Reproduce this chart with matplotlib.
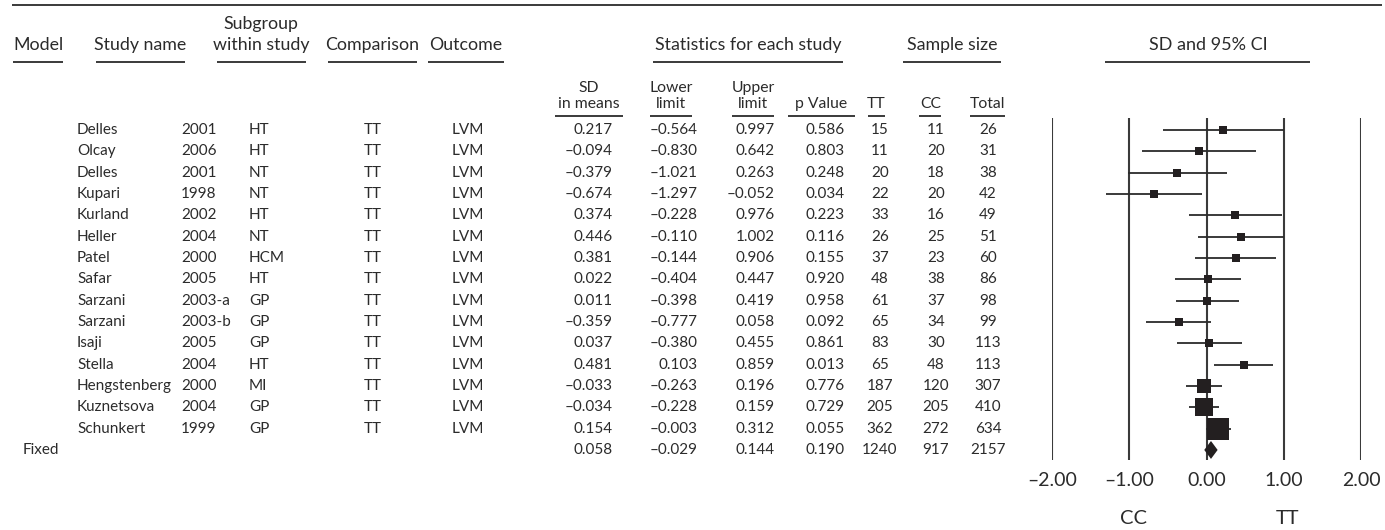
import numpy as np
import matplotlib
matplotlib.use("Agg")
import matplotlib.pyplot as plt

plt.rcParams['font.family'] = ['Lato', 'DejaVu Sans']

'''
######################### Data #########################
'''
study = ["Delles", "Olcay", "Delles", "Kupari", "Kurland", "Heller", "Patel", "Safar",
         "Sarzani", "Sarzani", "Isaji", "Stella", "Hengstenberg", "Kuznetsova", "Schunkert"]
year = ["2001", "2006", "2001", "1998", "2002", "2004", "2000", "2005",
        "2003-a", "2003-b", "2005", "2004", "2000", "2004", "1999"]
subgroup = ["HT", "HT", "NT", "NT", "HT", "NT", "HCM", "HT",
            "GP", "GP", "GP", "HT", "MI", "GP", "GP"]
comparison = ["TT"] * 15
outcome = ["LVM"] * 15
sd_means = [0.217, -0.094, -0.379, -0.674, 0.374, 0.446, 0.381, 0.022,
            0.011, -0.359, 0.037, 0.481, -0.033, -0.034, 0.154]
lower = [-0.564, -0.830, -1.021, -1.297, -0.228, -0.110, -0.144, -0.404,
         -0.398, -0.777, -0.380, 0.103, -0.263, -0.228, -0.003]
upper = [0.997, 0.642, 0.263, -0.052, 0.976, 1.002, 0.906, 0.447,
         0.419, 0.058, 0.455, 0.859, 0.196, 0.159, 0.312]
p_value = [0.586, 0.803, 0.248, 0.034, 0.223, 0.116, 0.155, 0.920,
           0.958, 0.092, 0.861, 0.013, 0.776, 0.729, 0.055]
n_tt = [15, 11, 20, 22, 33, 26, 37, 48, 61, 65, 83, 65, 187, 205, 362]
n_cc = [11, 20, 18, 20, 16, 25, 23, 38, 37, 34, 30, 48, 120, 205, 272]
n_total = [26, 31, 38, 42, 49, 51, 60, 86, 98, 99, 113, 113, 307, 410, 634]

# fixed effect summary
fixed = dict(sd=0.058, lower=-0.029, upper=0.144, p=0.190, tt=1240, cc=917, total=2157)

ticks = [-2, -1, 0, 1, 2]
tick_labels = ["\u20132.00", "\u20131.00", "0.00", "1.00", "2.00"]

def fmt(v):
    s = "%.3f" % abs(v)
    return ("\u2013" + s) if v < 0 else s

'''
######################### Layout (pixels) #########################
'''
W, H = 1385, 530
fig = plt.figure(figsize=(W / 100, H / 100), dpi=100)
ax = fig.add_axes([0, 0, 1, 1])
ax.set_xlim(0, W)
ax.set_ylim(H, 0)
ax.axis('off')

ink = "#2b2b2b"
row0, dy = 130, 21.33
def row_y(i):
    return row0 + dy * i

def uline(x0, x1, y):
    ax.plot([x0, x1], [y, y], color=ink, lw=1.3, solid_capstyle='butt')

# top rule
uline(12, 1382, 5)

hfs = 12.8
# main headers
ax.text(13, 50, "Model", fontsize=hfs, ha='left', va='baseline', color=ink)
uline(13, 63, 62)
ax.text(140, 50, "Study name", fontsize=hfs, ha='center', va='baseline', color=ink)
uline(96, 185, 62)
ax.text(261, 29, "Subgroup", fontsize=hfs, ha='center', va='baseline', color=ink)
ax.text(261, 50, "within study", fontsize=hfs, ha='center', va='baseline', color=ink)
uline(217, 306, 62)
ax.text(372, 50, "Comparison", fontsize=hfs, ha='center', va='baseline', color=ink)
uline(328, 417, 62)
ax.text(466, 50, "Outcome", fontsize=hfs, ha='center', va='baseline', color=ink)
uline(428, 504, 62)
ax.text(748, 50, "Statistics for each study", fontsize=hfs, ha='center', va='baseline', color=ink)
uline(653, 843, 62)
ax.text(952, 50, "Sample size", fontsize=hfs, ha='center', va='baseline', color=ink)
uline(903, 1001, 62)
ax.text(1208, 50, "SD and 95% CI", fontsize=13, ha='center', va='baseline', color=ink)
uline(1105, 1310, 62)

# sub headers
sfs = 11.3
subs = [("SD", "in means", 589, 555, 623),
        ("Lower", "limit", 671, 650, 692),
        ("Upper", "limit", 753, 732, 774),
        ("", "p Value", 821, 788, 855),
        ("", "TT", 876, 868, 885),
        ("", "CC", 931, 919, 941),
        ("", "Total", 988, 970, 1005)]
for top, bot, xc, x0, x1 in subs:
    if top:
        ax.text(xc, 92, top, fontsize=sfs, ha='center', va='baseline', color=ink)
    ax.text(xc, 108, bot, fontsize=sfs, ha='center', va='baseline', color=ink)
    uline(x0, x1, 116)

# table rows
rfs = 11
for i in range(len(study)):
    y = row_y(i)
    ax.text(77, y, study[i], fontsize=rfs, ha='left', va='center', color=ink)
    ax.text(181, y, year[i], fontsize=rfs, ha='left', va='center', color=ink)
    ax.text(249, y, subgroup[i], fontsize=rfs, ha='left', va='center', color=ink)
    ax.text(373, y, comparison[i], fontsize=rfs, ha='center', va='center', color=ink)
    ax.text(468, y, outcome[i], fontsize=rfs, ha='center', va='center', color=ink)
    ax.text(613, y, fmt(sd_means[i]), fontsize=rfs, ha='right', va='center', color=ink)
    ax.text(698, y, fmt(lower[i]), fontsize=rfs, ha='right', va='center', color=ink)
    ax.text(775, y, fmt(upper[i]), fontsize=rfs, ha='right', va='center', color=ink)
    ax.text(845, y, fmt(p_value[i]), fontsize=rfs, ha='right', va='center', color=ink)
    ax.text(880, y, str(n_tt[i]), fontsize=rfs, ha='center', va='center', color=ink)
    ax.text(936, y, str(n_cc[i]), fontsize=rfs, ha='center', va='center', color=ink)
    ax.text(988, y, str(n_total[i]), fontsize=rfs, ha='center', va='center', color=ink)

yf = row_y(len(study))
ax.text(23, yf, "Fixed", fontsize=rfs, ha='left', va='center', color=ink)
ax.text(613, yf, fmt(fixed['sd']), fontsize=rfs, ha='right', va='center', color=ink)
ax.text(698, yf, fmt(fixed['lower']), fontsize=rfs, ha='right', va='center', color=ink)
ax.text(775, yf, fmt(fixed['upper']), fontsize=rfs, ha='right', va='center', color=ink)
ax.text(845, yf, fmt(fixed['p']), fontsize=rfs, ha='right', va='center', color=ink)
ax.text(880, yf, str(fixed['tt']), fontsize=rfs, ha='center', va='center', color=ink)
ax.text(936, yf, str(fixed['cc']), fontsize=rfs, ha='center', va='center', color=ink)
ax.text(988, yf, str(fixed['total']), fontsize=rfs, ha='center', va='center', color=ink)

'''
######################### Forest plot #########################
'''
fx0, fx1 = 1052, 1361
fy0, fy1 = 118, 460
fx = fig.add_axes([fx0 / W, (H - fy1) / H, (fx1 - fx0) / W, (fy1 - fy0) / H])
fx.set_xlim(-2, 2)
fx.set_ylim((fy1 - row0) / dy, (fy0 - row0) / dy)
for s in fx.spines.values():
    s.set_visible(False)
fx.set_yticks([])
fx.set_xticks(ticks)
fx.set_xticklabels(tick_labels)
fx.tick_params(axis='x', length=0, pad=9, labelsize=14, colors=ink)
fx.patch.set_alpha(0)
for t in ticks:
    fx.axvline(t, color="#3a3a3a", lw=1.5, zorder=1)

lo = np.array(lower)
hi = np.array(upper)
se = (hi - lo) / 3.92
w = 1 / se ** 2
side_px = np.maximum(8, 1.7 * np.sqrt(w))
rows = np.arange(len(study))
fx.hlines(rows, lo, hi, color="#2b2b2b", lw=1.3, zorder=2)
for i in rows:
    fx.plot(sd_means[i], i, marker='s', ms=side_px[i] * 0.72, color="#231f20",
            mec="#231f20", mew=0, zorder=3)

# diamond for fixed estimate
fi = len(study)
dh = 0.42
fx.fill([fixed['lower'], fixed['sd'], fixed['upper'], fixed['sd']],
        [fi, fi - dh, fi, fi + dh], color="#231f20", zorder=3, lw=0)

tr = fx.get_xaxis_transform()
fx.text(-0.95, -0.17, "CC", transform=tr, fontsize=14.5, ha='center', va='center', color=ink)
fx.text(1.05, -0.17, "TT", transform=tr, fontsize=14.5, ha='center', va='center', color=ink)

plt.savefig("out.png", dpi=100)
